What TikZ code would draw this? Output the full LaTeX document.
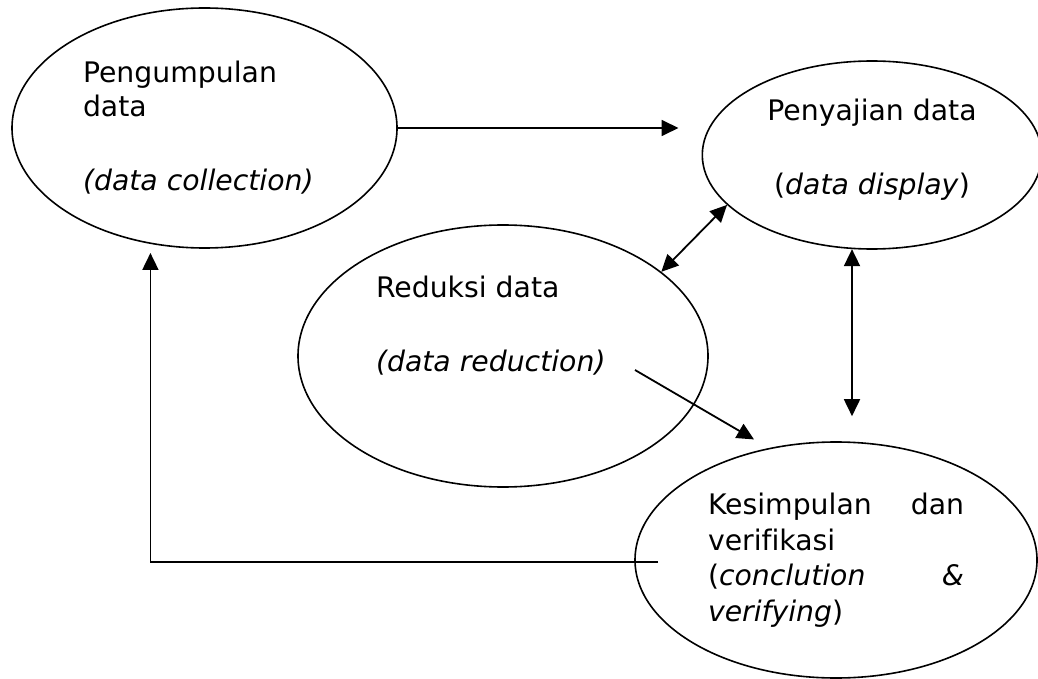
\documentclass[tikz,border=0pt]{standalone}
\usepackage{fontspec}
\setmainfont{DejaVu Sans}[Ligatures=CommonOff]
\usetikzlibrary{shapes.geometric,arrows.meta}
\tikzset{
    stage-ellipse/.style = {draw, ellipse, line width=0.8pt, inner sep=0pt, font=\fontsize{14.15pt}{17pt}\selectfont},
    flow-arrow/.style = {line width=0.9pt, -{Triangle[length=8.5pt,width=8pt]}},
    both-arrow/.style = {line width=0.9pt, {Triangle[length=8.5pt,width=8pt]}-{Triangle[length=8.5pt,width=8pt]}},
}

\begin{document}
\begin{tikzpicture}[x=0.5pt,y=-0.5pt]
\useasboundingbox (0,0) rectangle (1038,679);

\node [stage-ellipse, minimum width=192.5pt, minimum height=120pt] (collect) at (204.5,128) {\begin{minipage}{121.5pt}\raggedright
    Pengumpulan\\
    data\\[20pt]
    \textit{(data collection)}
\end{minipage}};

\node [stage-ellipse, minimum width=164pt, minimum height=94pt] (display) at (872,155) {\begin{minipage}{120pt}\centering
    Penyajian data\\[20pt]
    (\textit{data display})\par\vspace*{5pt}
\end{minipage}};

\node [stage-ellipse, minimum width=205pt, minimum height=131pt] (reduce) at (503,356) {\begin{minipage}{127pt}\raggedright
    Reduksi data\\[20pt]
    \textit{(data reduction)}\par\vspace*{30pt}
\end{minipage}};

\node [stage-ellipse, minimum width=201pt, minimum height=118pt] (conclude) at (836,560) {\begin{minipage}{128pt}\raggedright
    \fontsize{14.15pt}{17.8pt}\selectfont
    Kesimpulan \hfill dan\\
    verifikasi\\
    (\textit{conclution} \hfill \textit{\&}\\
    \textit{verifying})
\end{minipage}};

% arrows between the stages
\draw [flow-arrow, shorten >=11.5pt] (collect.east) -- (collect.east -| display.west);
\draw [both-arrow] (reduce.28) -- (display.199);
\draw [both-arrow, shorten >=12.5pt] (display.258) -- (display.258 |- conclude.north);
\draw [flow-arrow, shorten >=8.5pt] ([shift={(66pt,-7pt)}]reduce.center) -- (conclude.121);
\draw [flow-arrow, shorten >=4.5pt] ([shift={(12pt,-1pt)}]conclude.west) -| (collect.245);
\end{tikzpicture}
\end{document}
